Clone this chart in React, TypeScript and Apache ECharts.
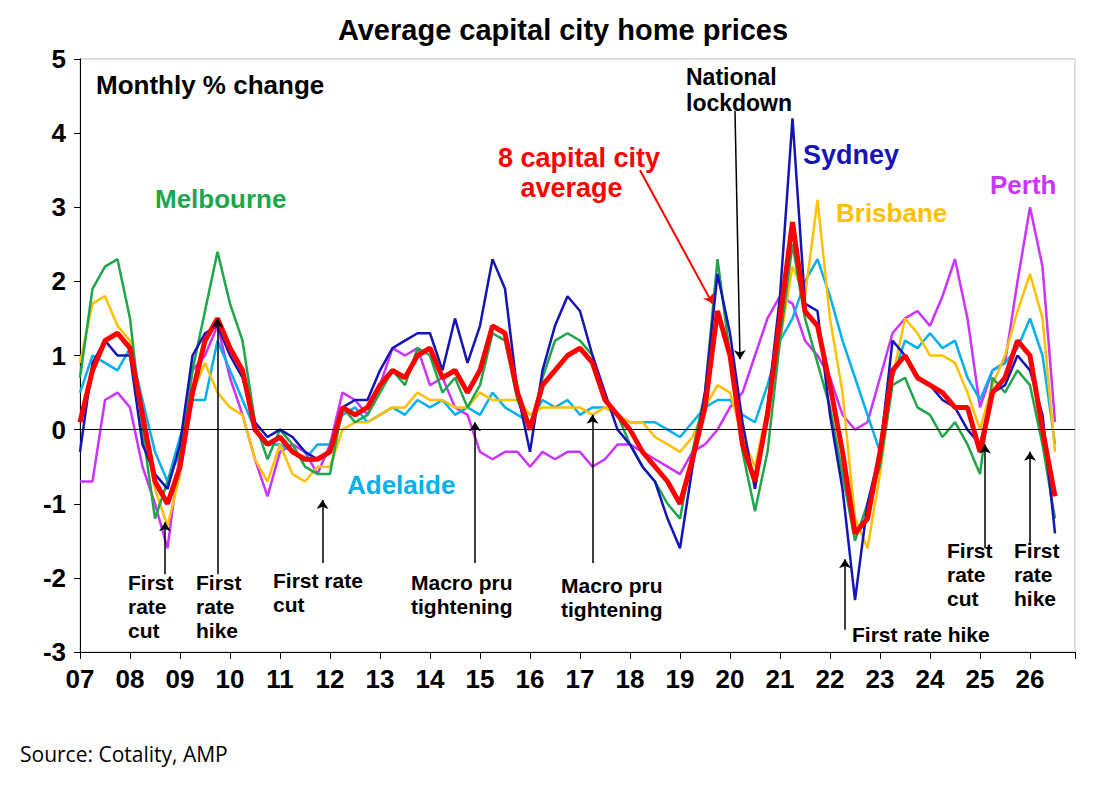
import { useEffect, useRef } from 'react';
import * as echarts from 'echarts';

// quarterly readings, 2007.0 .. 2026.5
const years: number[] = Array.from({ length: 79 }, (_, i) => 2007 + i * 0.25);

const avg8 = [0.1,0.8,1.2,1.3,1.1,0.2,-0.7,-1.0,-0.5,0.5,1.2,1.5,1.1,0.8,0.0,-0.2,-0.1,-0.3,-0.4,-0.4,-0.3,0.3,0.2,0.3,0.6,0.8,0.7,1.0,1.1,0.7,0.8,0.5,0.8,1.4,1.3,0.5,0.0,0.6,0.8,1.0,1.1,0.9,0.4,0.2,0.0,-0.3,-0.5,-0.7,-1.0,-0.4,0.3,1.6,1.0,-0.2,-0.7,0.2,1.5,2.8,1.6,1.4,0.6,-0.3,-1.4,-1.2,-0.3,0.8,1.0,0.7,0.6,0.5,0.3,0.3,-0.3,0.5,0.7,1.2,1.0,0.0,-0.9];
const sydney = [-0.3,0.9,1.2,1.0,1.0,-0.2,-0.6,-0.8,-0.2,1.0,1.3,1.4,1.0,0.7,0.1,-0.1,0.0,-0.1,-0.3,-0.4,-0.3,0.3,0.4,0.4,0.8,1.1,1.2,1.3,1.3,0.8,1.5,0.9,1.4,2.3,1.9,0.5,-0.3,0.8,1.4,1.8,1.6,1.0,0.5,0.0,-0.2,-0.5,-0.7,-1.2,-1.6,-0.5,0.5,2.1,1.3,0.1,-0.8,0.3,1.8,4.2,1.7,1.6,0.2,-0.8,-2.3,-1.0,-0.3,1.2,1.0,0.7,0.6,0.4,0.3,0.0,-0.2,0.5,0.6,1.0,0.8,0.2,-1.4];
const melbourne = [0.7,1.9,2.2,2.3,1.5,0.0,-1.2,-0.7,-0.3,0.8,1.6,2.4,1.7,1.2,0.1,-0.4,0.0,-0.2,-0.5,-0.6,-0.6,0.3,0.1,0.2,0.5,0.8,0.6,1.1,1.0,0.5,0.7,0.3,0.6,1.3,1.2,0.4,0.0,0.7,1.2,1.3,1.2,1.0,0.4,0.2,-0.2,-0.5,-0.7,-1.0,-1.2,-0.3,0.5,2.3,1.0,-0.3,-1.1,-0.3,1.2,2.5,1.5,0.9,0.3,-0.6,-1.5,-1.0,-0.5,0.6,0.7,0.3,0.2,-0.1,0.1,-0.2,-0.6,0.7,0.5,0.8,0.6,-0.2,-1.2];
const brisbane = [0.9,1.7,1.8,1.4,1.2,0.2,-0.8,-1.3,-0.6,0.5,0.9,0.5,0.3,0.2,-0.4,-0.7,-0.2,-0.6,-0.7,-0.5,-0.5,0.0,0.1,0.1,0.2,0.3,0.3,0.5,0.4,0.4,0.3,0.3,0.5,0.4,0.4,0.4,0.2,0.3,0.3,0.3,0.3,0.2,0.3,0.2,0.1,0.1,-0.1,-0.2,-0.3,-0.1,0.3,0.6,0.5,-0.1,-0.5,0.3,1.2,2.2,1.8,3.1,1.5,0.5,-1.2,-1.6,-0.6,0.7,1.5,1.3,1.0,1.0,0.9,0.5,0.0,0.6,1.0,1.6,2.1,1.5,-0.3];
const adelaide = [0.5,1.0,0.9,0.8,1.1,0.4,-0.3,-0.7,-0.1,0.4,0.4,1.2,0.8,0.4,0.0,-0.2,-0.2,-0.3,-0.4,-0.2,-0.2,0.2,0.3,0.1,0.2,0.3,0.2,0.4,0.3,0.4,0.2,0.3,0.2,0.5,0.3,0.2,0.1,0.4,0.3,0.4,0.2,0.3,0.3,0.2,0.1,0.1,0.1,0.0,-0.1,0.1,0.3,0.4,0.4,0.2,0.1,0.6,1.2,1.5,2.0,2.3,1.8,1.2,0.7,0.2,-0.3,0.7,1.2,1.1,1.3,1.1,1.2,0.7,0.4,0.8,0.9,1.1,1.5,1.0,-0.2];
const perth = [-0.7,-0.7,0.4,0.5,0.3,-0.5,-1.0,-1.6,-0.3,0.8,1.0,1.4,0.7,0.2,-0.4,-0.9,-0.3,-0.2,-0.3,-0.6,-0.2,0.5,0.4,0.2,0.6,1.1,1.0,1.1,0.6,0.7,0.3,0.2,-0.3,-0.4,-0.3,-0.3,-0.5,-0.3,-0.4,-0.3,-0.3,-0.5,-0.4,-0.2,-0.2,-0.3,-0.4,-0.5,-0.6,-0.3,-0.2,0.0,0.3,0.5,1.0,1.5,1.8,1.7,1.2,1.0,0.7,0.2,0.0,0.1,0.7,1.3,1.5,1.6,1.4,1.8,2.3,1.5,0.3,0.8,0.9,2.0,3.0,2.2,0.1];

const yTicks = [-3, -2, -1, 0, 1, 2, 3, 4, 5];

// event arrows: [x1, y1, x2, y2] in data units, colour
const arrows: [number, number, number, number, string][] = [
  [2008.7, -1.95, 2008.7, -1.25, '#000'],
  [2009.75, -1.95, 2009.75, 1.5, '#000'],
  [2011.85, -1.8, 2011.85, -0.95, '#000'],
  [2014.9, -1.8, 2014.9, 0.1, '#000'],
  [2017.25, -1.8, 2017.25, 0.2, '#000'],
  [2022.3, -2.7, 2022.3, -1.75, '#000'],
  [2025.1, -1.6, 2025.1, -0.2, '#000'],
  [2026.0, -1.55, 2026.0, -0.3, '#000'],
  [2020.1, 4.3, 2020.2, 0.95, '#000'],
  [2018.2, 3.5, 2019.65, 1.7, '#ff0000'],
];

const cities: [string, number[], string, number][] = [
  ['Perth', perth, '#cc33ff', 2.5],
  ['Adelaide', adelaide, '#00b0f0', 2.5],
  ['Brisbane', brisbane, '#ffc000', 2.5],
  ['Melbourne', melbourne, '#1fa64a', 2.5],
  ['Sydney', sydney, '#1414b8', 2.5],
  ['8 capital city average', avg8, '#ff0000', 5],
];

const F = '"Liberation Sans", Arial, sans-serif';

// x, y are page pixels of the reference; the div sits at the 8px body margin
function txt(x: number, y: number, text: string, color = '#000', size = 21, align = 'left') {
  return {
    type: 'text', x: x - 8, y: y - 8,
    style: {
      text, fill: color, font: `bold ${size}px ${F}`,
      textAlign: align, textVerticalAlign: 'top', lineHeight: size + 3,
    },
  };
}

export default function App() {
  const ref = useRef<HTMLDivElement>(null);
  useEffect(() => {
    if (!ref.current) return;
    const chart = echarts.init(ref.current, null, { renderer: 'svg' });
    chart.setOption({
      animation: false,
      grid: { left: 72, right: 22, top: 51, bottom: 126, show: true, borderColor: '#bfbfbf', borderWidth: 1 },
      xAxis: {
        type: 'value', min: 2007, max: 2026.9, interval: 1,
        axisLine: { onZero: false, lineStyle: { color: '#000' } },
        axisTick: { show: true, length: 7, lineStyle: { color: '#000' } },
        axisLabel: {
          color: '#000', fontSize: 26, fontWeight: 'bold', fontFamily: F, margin: 14,
          formatter: (v: number) => (v > 2026 ? '' : String(v).slice(2)),
        },
        splitLine: { show: false },
      },
      yAxis: {
        type: 'value', min: yTicks[0], max: yTicks[yTicks.length - 1], interval: 1,
        axisLine: { show: true, lineStyle: { color: '#000' } },
        axisTick: { show: true, length: 6, lineStyle: { color: '#000' } },
        axisLabel: { color: '#000', fontSize: 26, fontWeight: 'bold', fontFamily: F, margin: 14 },
        splitLine: { show: false },
      },
      series: [
        ...cities.map(([name, vals, color, w]) => ({
          name, type: 'line', showSymbol: false, smooth: false,
          data: years.map((y, i) => [y, vals[i]]),
          lineStyle: { color, width: w },
        })),
        {
          type: 'line', data: [], silent: true,
          markLine: {
            silent: true, animation: false,
            symbol: ['none', 'arrow'], symbolSize: 9,
            label: { show: false },
            data: [
              [{ coord: [2007, 0], symbol: 'none', lineStyle: { color: '#000', width: 1, type: 'solid' } },
               { coord: [2026.9, 0], symbol: 'none' }],
              ...arrows.map(([x1, y1, x2, y2, c]) => [
                { coord: [x1, y1], lineStyle: { color: c, width: c === '#000' ? 1.5 : 2, type: 'solid' } },
                { coord: [x2, y2] },
              ]),
            ],
          },
        },
      ],
      graphic: [
        txt(563, 14, 'Average capital city home prices', '#000', 29, 'center'),
        txt(96, 70, 'Monthly % change', '#000', 26),
        txt(155, 184, 'Melbourne', '#1fa64a', 26),
        txt(347, 470, 'Adelaide', '#00b0f0', 26),
        txt(498, 143, '8 capital city\n   average', '#ff0000', 27),
        txt(686, 64, 'National\nlockdown', '#000', 23),
        txt(803, 140, 'Sydney', '#1414b8', 27),
        txt(836, 198, 'Brisbane', '#ffc000', 26),
        txt(990, 170, 'Perth', '#cc33ff', 26),
        txt(128, 570, 'First\nrate\ncut', '#000', 21),
        txt(196, 570, 'First\nrate\nhike', '#000', 21),
        txt(273, 568, 'First rate\ncut', '#000', 21),
        txt(411, 570, 'Macro pru\ntightening', '#000', 21),
        txt(561, 573, 'Macro pru\ntightening', '#000', 21),
        txt(852, 622, 'First rate hike', '#000', 21),
        txt(947, 538, 'First\nrate\ncut', '#000', 21),
        txt(1014, 538, 'First\nrate\nhike', '#000', 21),
        {
          type: 'text', x: 12, y: 735,
          style: { text: 'Source: Cotality, AMP', fill: '#000', font: `21px "Open Sans", sans-serif`, textVerticalAlign: 'top' },
        },
      ],
    });
    return () => chart.dispose();
  }, []);
  return <div ref={ref} style={{ width: 1089, height: 770 }} />;
}
